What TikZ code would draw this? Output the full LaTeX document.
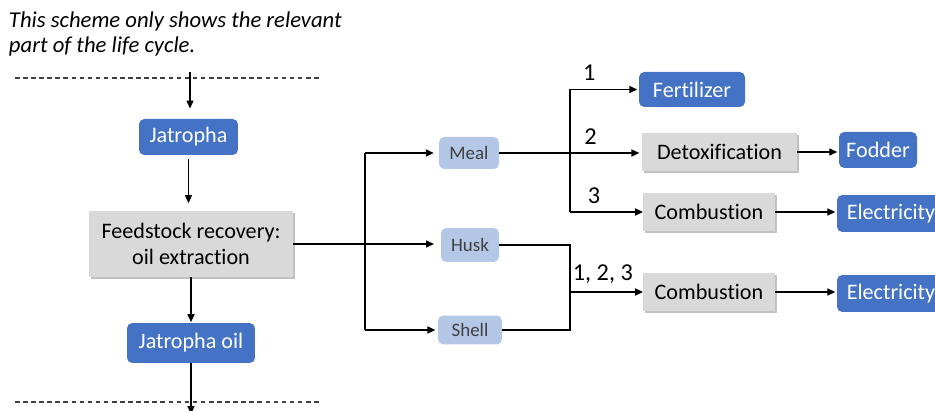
\documentclass[tikz,border=0pt]{standalone}
\usepackage{fontspec}
\setmainfont{Carlito}[Ligatures={NoCommon,NoContextual}]
\usetikzlibrary{arrows.meta,shadows}
\definecolor{boxblue}{HTML}{4472C4}
\definecolor{boxgray}{HTML}{D9D9D9}
\definecolor{paleblue}{HTML}{B4C7E7}
\definecolor{darktext}{HTML}{404040}
\begin{document}
\begin{tikzpicture}[x=0.02cm,y=-0.02cm,inner sep=0pt,outer sep=0pt,line width=0.7pt,
>={Triangle[length=4.5pt,width=4pt]},
outblock/.style={fill=boxblue,text=white,rounded corners=3pt,font=\fontsize{12.6}{15}\selectfont},
stepblock/.style={fill=boxgray,align=center,font=\fontsize{12.6}{15}\selectfont,
  drop shadow={shadow xshift=1pt,shadow yshift=-1.2pt,opacity=0.35,fill=black!70}},
partblock/.style={fill=paleblue,text=darktext,rounded corners=3pt,font=\fontsize{10.8}{13}\selectfont},
tag/.style={font=\fontsize{13.8}{16}\selectfont}]

\useasboundingbox (0,0) rectangle (935,411);

\draw (9,12) node[anchor=north west,align=left,font=\fontsize{12.9}{14.3}\selectfont\itshape] (note)
  {This scheme only shows the relevant\\part of the life cycle.};

\draw (188.5,137) node[outblock,minimum width=1.98cm,minimum height=0.72cm] (jat) {Jatropha};
\draw (191,244) node[stepblock,minimum width=4.08cm,minimum height=1.32cm] (feed) {Feedstock recovery:\\oil extraction};
\draw (191,343) node[outblock,minimum width=2.56cm,minimum height=0.8cm] (oil) {Jatropha oil};

\draw (469,153) node[partblock,minimum width=1.2cm,minimum height=0.64cm] (meal) {Meal};
\draw (470,245) node[partblock,minimum width=1.16cm,minimum height=0.68cm] (husk) {Husk};
\draw (470,330) node[partblock,minimum width=1.28cm,minimum height=0.58cm] (shell) {Shell};

\draw (692,89.5) node[outblock,minimum width=2.12cm,minimum height=0.7cm] (fert) {Fertilizer};
\draw (719.5,152) node[stepblock,minimum width=3.1cm,minimum height=0.76cm] (detox) {Detoxification};
\draw (878,150) node[outblock,minimum width=1.56cm,minimum height=0.72cm] (fodder) {Fodder};
\draw (709,212) node[stepblock,minimum width=2.64cm,minimum height=0.76cm] (comb1) {Combustion};
\draw (891,213.5) node[outblock,minimum width=2.16cm,minimum height=0.74cm] (elec1) {Electricity};
\draw (709,292) node[stepblock,minimum width=2.64cm,minimum height=0.76cm] (comb2) {Combustion};
\draw (891,293.5) node[outblock,minimum width=2.16cm,minimum height=0.74cm] (elec2) {Electricity};

\coordinate (in) at (190,72);
\coordinate (out) at (193,414);
\coordinate (split) at (365,244);
\coordinate (mealsplit) at (570,153);
\coordinate (merge) at (570,292);

% system boundary
\draw[dashed,dash pattern=on 2.6pt off 2pt,line width=0.6pt,black!75] (15,78) -- (322,78);
\draw[dashed,dash pattern=on 2.6pt off 2pt,line width=0.6pt,black!75] (15,402) -- (322,402);

\draw[->,shorten >=6pt] (in) -- (in |- jat.north);
\draw[->,shorten <=2pt,shorten >=4.5pt] (jat.south) -- (jat.south |- feed.north);
\draw[->,shorten >=0.5pt] (feed.south) -- (feed.south |- oil.north);
\draw[->] (oil.south) -- (oil.south |- out);

\draw (feed.east |- split) -- (split);
\draw (split |- meal) -- (split |- shell);
\draw[->,shorten >=3pt] (split |- meal) -- (meal.west);
\draw[->,shorten >=4pt] (split) -- (husk.west |- split);
\draw[->,shorten >=1.5pt] (split |- shell) -- (shell.west);

\draw[->,shorten >=1.5pt] (meal.east) -- node[tag,above=5pt,pos=.64] {2} (meal.east -| detox.west);
\draw (mealsplit |- fert) -- (mealsplit |- comb1);
\draw[->,shorten >=1pt] (mealsplit |- fert) -- node[tag,above=5pt,pos=.28] {1} (fert.west);
\draw[->] (mealsplit |- comb1) -- node[tag,above=5pt,pos=.33] {3} (comb1.west);

\draw (husk.east) -- (husk.east -| merge) -- (shell.east -| merge) -- (shell.east);
\draw[->] (merge) -- node[tag,above=5pt,pos=.45] {1, 2, 3} (comb2.west);

\draw[->,shorten >=1pt] (detox.east) -- (detox.east -| fodder.west);
\draw[->,shorten >=1pt] (comb1.east) -- (comb1.east -| elec1.west);
\draw[->,shorten >=1pt] (comb2.east) -- (comb2.east -| elec2.west);
\end{tikzpicture}
\end{document}
